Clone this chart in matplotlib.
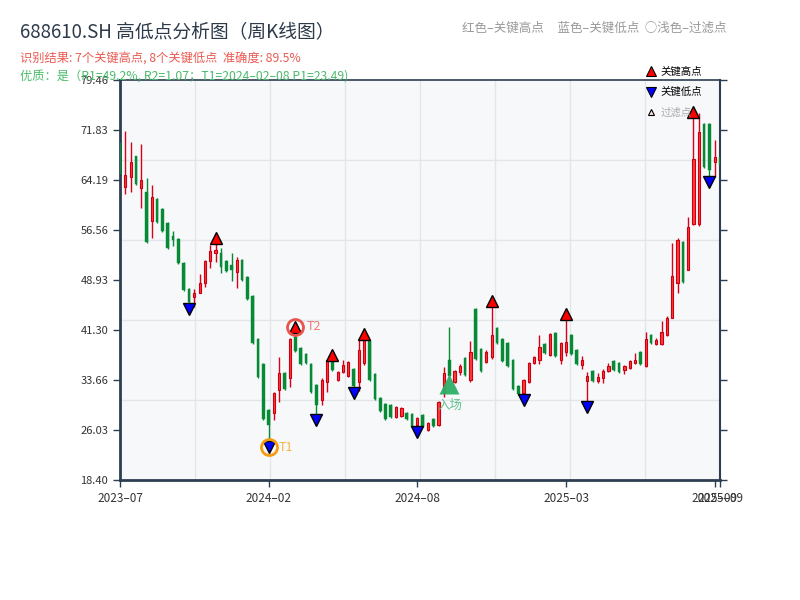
import numpy as np
import matplotlib
matplotlib.use("Agg")
import matplotlib.pyplot as plt
from matplotlib.lines import Line2D
from matplotlib.transforms import offset_copy

plt.rcParams['font.family'] = ['Noto Sans CJK SC', 'DejaVu Sans']

# weekly candles (open, high, low, close)
opens = [69.84, 63.13, 64.65, 67.86, 62.97, 62.36, 57.94, 61.29, 59.77, 57.63,
         55.65, 55.19, 51.52, 47.56, 46.34, 46.95, 48.47, 51.83, 53.05, 53.05,
         51.83, 51.22, 50.15, 51.98, 49.39, 46.49, 39.92, 36.11, 29.09, 28.63,
         32.14, 34.73, 33.97, 40.23, 38.55, 37.63, 36.11, 32.90, 30.61, 33.36,
         36.41, 33.67, 34.89, 34.28, 35.34, 33.36, 36.26, 39.62, 34.58, 30.92,
         30.00, 29.85, 28.02, 28.17, 28.63, 28.47, 26.80, 28.32, 26.03, 27.71,
         26.80, 31.68, 36.72, 33.36, 34.89, 37.02, 33.67, 44.50, 38.40, 36.41,
         37.18, 41.60, 39.92, 39.31, 36.72, 32.75, 31.68, 33.36, 36.26, 36.72,
         39.16, 37.48, 40.84, 36.72, 37.94, 40.53, 38.24, 35.95, 33.51, 35.04,
         33.51, 33.97, 35.04, 36.57, 36.26, 35.19, 35.50, 36.26, 37.94, 35.80,
         40.53, 39.16, 39.16, 40.53, 43.13, 48.47, 54.73, 50.46, 57.48, 57.48,
         72.74, 72.74, 66.94, 67.71]
highs = [70.15, 71.68, 70.00, 67.86, 69.69, 64.50, 63.43, 61.45, 59.92, 57.78,
         56.41, 55.34, 51.68, 47.71, 47.56, 49.85, 51.98, 54.27, 54.43, 53.82,
         51.98, 53.05, 52.44, 52.14, 49.54, 46.64, 40.08, 36.26, 29.24, 31.83,
         37.18, 34.89, 40.08, 40.84, 38.70, 37.79, 36.26, 33.05, 33.97, 36.72,
         36.57, 35.04, 36.72, 36.57, 35.50, 39.77, 39.77, 39.77, 34.73, 31.07,
         30.15, 30.00, 29.70, 29.54, 28.78, 28.63, 28.02, 28.47, 27.25, 27.86,
         30.46, 35.65, 41.76, 35.19, 36.11, 37.18, 39.62, 44.66, 38.55, 38.24,
         44.81, 41.76, 40.08, 39.47, 36.87, 32.90, 33.82, 36.41, 37.33, 40.53,
         39.31, 40.84, 40.99, 39.47, 42.82, 40.69, 38.40, 37.33, 34.89, 35.19,
         34.73, 35.34, 36.26, 36.72, 36.41, 35.95, 36.72, 37.79, 38.09, 40.99,
         40.69, 40.08, 42.67, 43.43, 54.58, 55.34, 54.88, 58.55, 73.66, 74.42,
         72.90, 72.90, 70.30, 67.86]
lows = [64.81, 62.06, 62.36, 63.43, 59.92, 54.58, 55.34, 57.63, 56.26, 53.66,
        54.12, 51.37, 47.25, 45.42, 44.81, 46.95, 47.86, 50.76, 51.68, 50.00,
        50.15, 48.78, 47.71, 48.78, 45.88, 39.16, 33.97, 27.56, 24.35, 27.56,
        30.31, 32.14, 32.60, 37.94, 35.95, 36.11, 31.68, 28.47, 29.85, 31.83,
        35.04, 33.51, 34.73, 34.12, 32.60, 31.99, 35.95, 33.51, 30.61, 28.78,
        27.56, 27.86, 27.86, 28.02, 27.56, 26.34, 26.64, 26.49, 25.88, 26.49,
        26.64, 31.07, 34.12, 33.21, 34.43, 34.28, 33.36, 36.72, 34.89, 36.26,
        36.87, 39.16, 36.41, 35.65, 32.14, 31.38, 31.53, 33.21, 36.11, 36.11,
        37.63, 37.33, 37.18, 36.11, 37.33, 37.48, 35.95, 35.34, 30.46, 33.36,
        33.21, 33.21, 34.89, 35.04, 34.73, 34.58, 35.34, 36.11, 35.95, 35.65,
        39.16, 39.01, 39.01, 40.38, 43.13, 46.95, 48.47, 50.46, 57.33, 57.17,
        66.03, 64.81, 64.65, 66.33]
closes = [65.11, 64.96, 66.94, 63.58, 64.20, 54.73, 61.60, 57.78, 56.41, 53.82,
          55.04, 51.52, 47.40, 45.57, 46.95, 48.47, 51.83, 53.36, 53.51, 50.91,
          50.30, 50.46, 51.98, 48.93, 46.03, 39.31, 34.12, 27.71, 26.80, 31.68,
          34.73, 32.29, 39.92, 38.09, 36.11, 36.26, 31.83, 29.85, 33.67, 36.72,
          35.19, 34.89, 35.95, 36.41, 32.75, 38.24, 39.77, 33.67, 30.76, 28.93,
          27.71, 28.02, 29.54, 29.39, 27.71, 26.49, 27.86, 26.64, 27.10, 26.64,
          30.31, 34.73, 34.28, 35.04, 35.80, 34.43, 37.94, 36.87, 35.04, 37.94,
          40.53, 39.31, 36.57, 35.80, 32.29, 31.53, 33.67, 36.26, 37.18, 38.70,
          37.79, 40.69, 37.33, 39.31, 39.47, 37.63, 36.11, 36.72, 34.28, 33.51,
          34.12, 35.04, 35.80, 35.19, 34.89, 35.80, 36.57, 36.72, 36.11, 39.92,
          39.31, 39.77, 40.99, 43.13, 49.54, 55.04, 48.63, 57.02, 67.40, 71.52,
          66.18, 65.72, 67.71, 66.49]

key_high_idx = [18, 33, 40, 46, 70, 84, 108]
key_low_idx = [13, 28, 37, 44, 56, 76, 88, 111]
t1_idx = 28
t2_idx = 33
entry_idx = 62
entry_price = 33.05

tick_idx = [0, 28, 56, 84, 112, 113]
tick_labels = ['2023–07', '2024–02', '2024–08', '2025–03', '2025–09', '2025–09']

y_min, y_max = 18.40, 79.46

opens = np.array(opens)
highs = np.array(highs)
lows = np.array(lows)
closes = np.array(closes)
idx = np.arange(len(opens))
up = closes >= opens
dn = ~up

fig = plt.figure(figsize=(8, 6), dpi=100)
ax = fig.add_axes([120 / 800, 120 / 600, 600 / 800, 400 / 600])
ax.set_facecolor('#f7f8fa')
x_lo, x_hi = 0.1, 112.9
ax.set_xlim(x_lo, x_hi)
ax.set_ylim(y_min, y_max)

# grid
for v in np.linspace(y_min, y_max, 6)[1:-1]:
    ax.axhline(v, color='#e2e5ea', lw=1, zorder=0)
for v in np.linspace(x_lo, x_hi, 9)[1:-1]:
    ax.axvline(v, color='#e2e5ea', lw=1, zorder=0)

# candles
ax.vlines(idx[up], lows[up], highs[up], color='#d9001b', lw=1, zorder=2)
ax.bar(idx[up], closes[up] - opens[up], bottom=opens[up], width=0.42,
       color='#ff3a3a', edgecolor='#c80010', lw=0.8, zorder=3)
ax.vlines(idx[dn], lows[dn], highs[dn], color='#078a36', lw=1, zorder=2)
ax.bar(idx[dn], closes[dn] - opens[dn], bottom=opens[dn], width=0.5,
       color='#078a36', edgecolor='#078a36', lw=0.3, zorder=3)

up_tr = offset_copy(ax.transData, fig=fig, x=0, y=6, units='dots')
dn_tr = offset_copy(ax.transData, fig=fig, x=0, y=-6, units='dots')

ax.plot(idx[key_high_idx], highs[key_high_idx], ls='', marker='^', ms=9,
        color='#ff0000', mec='black', mew=1, transform=up_tr, zorder=5, clip_on=False)
ax.plot(idx[key_low_idx], lows[key_low_idx], ls='', marker='v', ms=9,
        color='#0000ff', mec='black', mew=1, transform=dn_tr, zorder=5, clip_on=False)

# T1 / T2 rings
ax.plot(t1_idx, lows[t1_idx], marker='o', ms=11.5, mfc='none', mec='#f39c12',
        mew=2, transform=dn_tr, zorder=6)
ax.annotate('T1', (t1_idx, lows[t1_idx]), xycoords=dn_tr, xytext=(10, 0),
            textcoords='offset pixels', color='#f7b548', fontsize=9,
            va='center', ha='left', zorder=6)
ax.plot(t2_idx, highs[t2_idx], marker='o', ms=11.5, mfc='none', mec='#e8554e',
        mew=2, transform=up_tr, zorder=6)
ax.annotate('T2', (t2_idx, highs[t2_idx]), xycoords=up_tr, xytext=(11, 0),
            textcoords='offset pixels', color='#ef7b73', fontsize=9,
            va='center', ha='left', zorder=6)

# entry
ax.plot(entry_idx, entry_price, marker='^', ms=15, color='#2eaf67', mec='none',
        alpha=0.95, zorder=6)
ax.annotate('入场', (entry_idx, entry_price), xytext=(1, -21),
            textcoords='offset pixels', color='#62c28c', fontsize=9,
            va='center', ha='center', zorder=6)

# axes styling
spine_c = '#2c3e50'
for s in ax.spines.values():
    s.set_color(spine_c)
ax.spines['left'].set_linewidth(2)
ax.spines['bottom'].set_linewidth(2)
ax.spines['right'].set_linewidth(1.5)
ax.spines['top'].set_linewidth(1.2)

yt = np.linspace(y_min, y_max, 9)
ax.set_yticks(yt)
ax.set_yticklabels([f'{v:.2f}' for v in yt])
ax.set_xticks(tick_idx)
ax.set_xticklabels(tick_labels)
ax.tick_params(axis='y', left=True, right=True, labelright=False, direction='out',
               length=5, width=1, color=spine_c, labelcolor='#333333', labelsize=8)
ax.tick_params(axis='x', direction='out', length=5, width=1, color=spine_c,
               labelcolor='#333333', labelsize=8.5)

# titles
fig.text(20 / 800, 1 - 33 / 600, '688610.SH 高低点分析图（周K线图）',
         fontsize=13.5, color='#2d3a4a', va='center', ha='left')
fig.text(20 / 800, 1 - 59 / 600, '识别结果: 7个关键高点, 8个关键低点  准确度: 89.5%',
         fontsize=8.8, color='#ea5a52', va='center', ha='left')
fig.text(20 / 800, 1 - 77 / 600, '优质：是（R1=49.2%, R2=1.07；T1=2024–02–08 P1=23.49)',
         fontsize=8.8, color='#4cbb6c', va='center', ha='left', zorder=0)
fig.text(727 / 800, 1 - 28 / 600, '红色–关键高点     蓝色–关键低点  ○浅色–过滤点',
         fontsize=9, color='#999999', va='center', ha='right')

handles = [
    Line2D([], [], ls='', marker='^', ms=7, color='#ff0000', mec='black', mew=0.8, label='关键高点'),
    Line2D([], [], ls='', marker='v', ms=7, color='#0000ff', mec='black', mew=0.8, label='关键低点'),
    Line2D([], [], ls='', marker='^', ms=5, color='#ffe0e0', mec='black', mew=0.8, label='过滤点'),
]
leg = fig.legend(handles=handles, loc='upper left', bbox_to_anchor=(640 / 800, 1 - 61 / 600),
                 frameon=False, fontsize=7.5, handletextpad=0.3, labelspacing=1.0,
                 handlelength=1.2, borderpad=0)
leg.get_texts()[2].set_color('#aaaaaa')

fig.savefig('out.png', dpi=100)
